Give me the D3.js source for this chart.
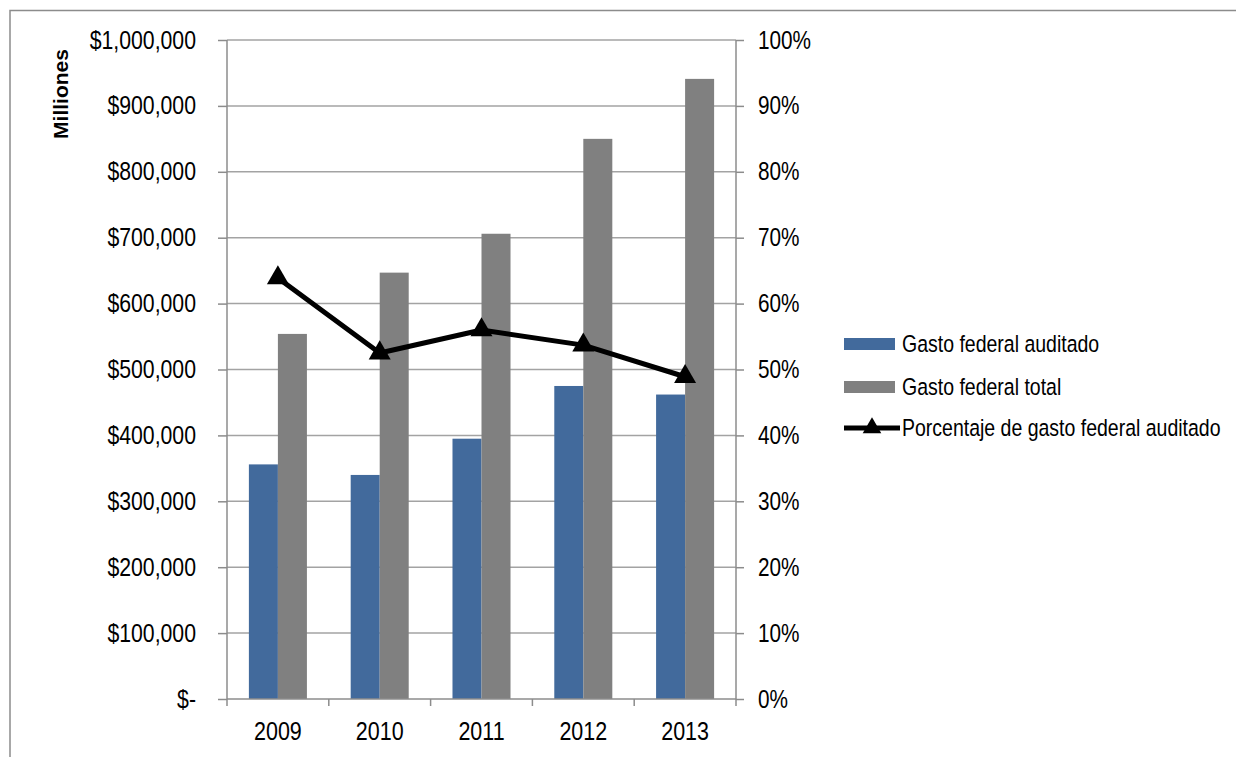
<!DOCTYPE html>
<html>
<head>
<meta charset="utf-8">
<script src="https://cdn.jsdelivr.net/npm/d3@7"></script>
<style>
  html, body { margin: 0; padding: 0; background: #ffffff; }
  svg { display: block; }
</style>
</head>
<body>
<svg id="chart" width="1236" height="757"></svg>
<script>
// ---- data ----
const years = ["2009", "2010", "2011", "2012", "2013"];
const gastoAuditado = [356000, 340000, 395000, 475000, 462000];
const gastoTotal = [554000, 647000, 706000, 850000, 941000];
const porcentajeAuditado = [0.639, 0.525, 0.560, 0.537, 0.489];
const leftTicks = [0, 100000, 200000, 300000, 400000, 500000, 600000, 700000, 800000, 900000, 1000000];
const rightTicks = [0, 0.1, 0.2, 0.3, 0.4, 0.5, 0.6, 0.7, 0.8, 0.9, 1.0];
const seriesNames = ["Gasto federal auditado", "Gasto federal total", "Porcentaje de gasto federal auditado"];
const yAxisTitle = "Milliones";

// ---- style ----
const FONT = "'Liberation Sans', Arial, sans-serif";
const BLUE = "#426a9c";
const GRAY = "#808080";
const GRID = "#a3a3a3";
const AXIS = "#8c8c8c";

const svg = d3.select("#chart");
const plot = { left: 227, right: 736, top: 40, bottom: 699 };

// condense text horizontally (narrow sans look)
function narrow(sel, s) {
  sel.each(function () {
    const t = d3.select(this);
    const x0 = +(t.attr("x") || 0);
    t.attr("x", x0 / s).attr("transform", `scale(${s},1)`);
  });
}

// frame
svg.append("rect").attr("x", 10).attr("y", 10.5).attr("width", 1300).attr("height", 800)
  .attr("fill", "none").attr("stroke", AXIS).attr("stroke-width", 1.5);

const x = d3.scaleBand().domain(years).range([plot.left, plot.right]).paddingInner(0).paddingOuter(0);
const bw = x.bandwidth();
const x1 = d3.scaleBand().domain([0, 1]).range([bw * 0.215, bw * 0.785]).padding(0);
const yL = d3.scaleLinear().domain([0, 1000000]).range([plot.bottom, plot.top]);
const yR = d3.scaleLinear().domain([0, 1]).range([plot.bottom, plot.top]);

// gridlines
svg.append("g").selectAll("line").data(leftTicks.slice(1)).join("line")
  .attr("x1", plot.left).attr("x2", plot.right)
  .attr("y1", d => yL(d)).attr("y2", d => yL(d))
  .attr("stroke", GRID).attr("stroke-width", 1.5);

// bars
const barData = years.map((yr, i) => [
  { yr, k: 0, v: gastoAuditado[i], c: BLUE },
  { yr, k: 1, v: gastoTotal[i], c: GRAY }
]).flat();
svg.append("g").selectAll("rect").data(barData).join("rect")
  .attr("x", d => x(d.yr) + x1(d.k))
  .attr("width", x1.bandwidth())
  .attr("y", d => yL(d.v))
  .attr("height", d => plot.bottom - yL(d.v))
  .attr("fill", d => d.c);

// left axis
const gL = svg.append("g").attr("transform", `translate(${plot.left},0)`)
  .call(d3.axisLeft(yL).tickValues(leftTicks).tickSize(9).tickPadding(22)
    .tickFormat(d => d === 0 ? "$-" : "$" + d3.format(",")(d)));
// right axis
const gR = svg.append("g").attr("transform", `translate(${plot.right},0)`)
  .call(d3.axisRight(yR).tickValues(rightTicks).tickSize(8).tickPadding(14)
    .tickFormat(d3.format(".0%")));
// bottom axis (labels)
const gB = svg.append("g").attr("transform", `translate(0,${plot.bottom})`)
  .call(d3.axisBottom(x).tickSize(0).tickPadding(23));
// bottom boundary ticks
const bounds = years.map(y => x(y)).concat([plot.right]);
gB.append("g").selectAll("line").data(bounds).join("line")
  .attr("x1", d => d).attr("x2", d => d).attr("y1", 0).attr("y2", 7)
  .attr("stroke", AXIS).attr("stroke-width", 1.5);

[gL, gR, gB].forEach(g => {
  g.selectAll(".domain").attr("stroke", AXIS).attr("stroke-width", 1.5);
  g.selectAll(".tick line").attr("stroke", AXIS).attr("stroke-width", 1.5);
  g.selectAll("text").attr("font-family", FONT).attr("font-size", 25).attr("fill", "#000");
});
gL.select(".domain").attr("d", `M0,${plot.top}V${plot.bottom}`);
gR.select(".domain").attr("d", `M0,${plot.top}V${plot.bottom}`);
gB.select(".domain").attr("d", `M${plot.left},0H${plot.right}`);
narrow(gL.selectAll("text"), 0.85);
narrow(gR.selectAll("text"), 0.83);
narrow(gB.selectAll("text"), 0.86);

// y axis title
svg.append("text")
  .attr("transform", "translate(68,94) rotate(-90)")
  .attr("text-anchor", "middle")
  .attr("font-family", FONT)
  .attr("font-weight", "bold").attr("font-size", 21)
  .text(yAxisTitle);

// line
const cx = i => x(years[i]) + bw / 2;
const line = d3.line().x((d, i) => cx(i)).y(d => yR(d));
svg.append("path").datum(porcentajeAuditado).attr("d", line)
  .attr("fill", "none").attr("stroke", "#000").attr("stroke-width", 5)
  .attr("stroke-linejoin", "round");
const tri = d3.symbol().type(d3.symbolTriangle).size(210);
svg.append("g").selectAll("path").data(porcentajeAuditado).join("path")
  .attr("d", tri)
  .attr("transform", (d, i) => `translate(${cx(i)},${yR(d)})`)
  .attr("fill", "#000");

// legend
const legY = [344, 387, 428];
const lg = svg.append("g");
[BLUE, GRAY].forEach((c, i) => {
  lg.append("rect").attr("x", 844).attr("y", legY[i] - 6).attr("width", 51).attr("height", 12).attr("fill", c);
});
lg.append("line").attr("x1", 844).attr("x2", 900).attr("y1", legY[2]).attr("y2", legY[2])
  .attr("stroke", "#000").attr("stroke-width", 5);
lg.append("path").attr("d", d3.symbol().type(d3.symbolTriangle).size(150))
  .attr("transform", `translate(872,${legY[2]})`).attr("fill", "#000");
seriesNames.forEach((s, i) => {
  lg.append("text").attr("x", 902).attr("y", legY[i]).attr("dy", "0.35em")
    .attr("font-family", FONT).attr("font-size", 23.5).attr("fill", "#000").text(s);
});
narrow(lg.selectAll("text"), 0.83);
</script>
</body>
</html>
